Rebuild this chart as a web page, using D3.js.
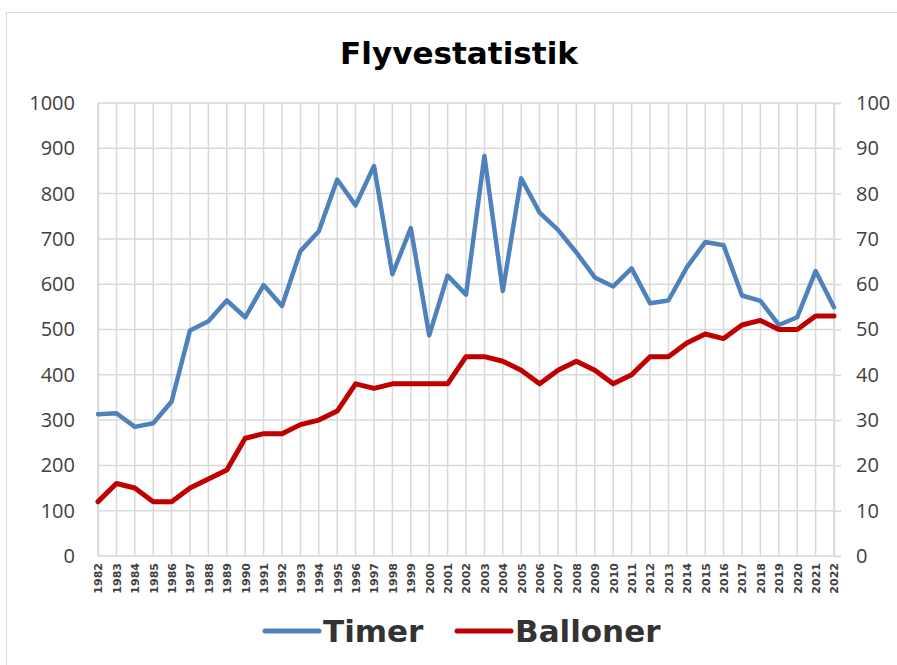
<!DOCTYPE html>
<html>
<head>
<meta charset="utf-8">
<script src="https://cdn.jsdelivr.net/npm/d3@7"></script>
<style>
  body { margin: 0; background: #fff; }
  svg { display: block; }
</style>
</head>
<body>
<div id="chart"></div>
<script>
const years = d3.range(1982, 2023).map(String);
const timer = [313, 315, 285, 293, 341, 498, 518, 564, 527, 598, 552, 673, 717, 831, 774, 861, 622, 724, 487, 619, 577, 883, 585, 834, 758, 720, 670, 615, 595, 635, 558, 564, 637, 693, 686, 575, 563, 510, 527, 629, 549];
const balloner = [12, 16, 15, 12, 12, 15, 17, 19, 26, 27, 27, 29, 30, 32, 38, 37, 38, 38, 38, 38, 44, 44, 43, 41, 38, 41, 43, 41, 38, 40, 44, 44, 47, 49, 48, 51, 52, 50, 50, 53, 53];
const leftTicks = d3.range(0, 1001, 100);
const rightTicks = d3.range(0, 101, 10);

const W = 897, H = 665;
const plot = { left: 98, right: 834, top: 103, bottom: 556 };

const svg = d3.select("#chart").append("svg")
    .attr("width", W)
    .attr("height", H)
    .style("font-family", "'DejaVu Sans', Verdana, sans-serif");

// chart frame
svg.append("rect")
    .attr("x", 6.5).attr("y", 12.5)
    .attr("width", W).attr("height", H)
    .attr("fill", "none")
    .attr("stroke", "#d9d9d9");

const x = d3.scalePoint().domain(years).range([plot.left, plot.right]);
const yL = d3.scaleLinear().domain([0, 1000]).range([plot.bottom, plot.top]);
const yR = d3.scaleLinear().domain([0, 100]).range([plot.bottom, plot.top]);

// grid
svg.append("g").selectAll("line.h").data(leftTicks).join("line")
    .attr("x1", plot.left).attr("x2", plot.right)
    .attr("y1", d => yL(d)).attr("y2", d => yL(d))
    .attr("stroke", "#d9d9d9").attr("stroke-width", 1.5);

svg.append("g").selectAll("line.v").data(years).join("line")
    .attr("x1", d => x(d)).attr("x2", d => x(d))
    .attr("y1", plot.top).attr("y2", plot.bottom)
    .attr("stroke", "#d9d9d9").attr("stroke-width", 1.5);

// axes
const axL = svg.append("g")
    .attr("transform", `translate(${plot.left},0)`)
    .call(d3.axisLeft(yL).tickValues(leftTicks).tickFormat(d3.format("d")).tickSize(0).tickPadding(23));
const axR = svg.append("g")
    .attr("transform", `translate(${plot.right},0)`)
    .call(d3.axisRight(yR).tickValues(rightTicks).tickFormat(d3.format("d")).tickSize(7).tickPadding(15));
[axL, axR].forEach(a => {
    a.select(".domain").attr("stroke", "#d9d9d9").attr("stroke-width", 1.5);
    a.selectAll(".tick line").attr("stroke", "#d9d9d9").attr("stroke-width", 1.5);
    a.selectAll("text").attr("font-size", 20).attr("fill", "#404040")
        .style("font-family", "'Open Sans', sans-serif");
});

const axB = svg.append("g")
    .attr("transform", `translate(0,${plot.bottom})`)
    .call(d3.axisBottom(x).tickSize(0));
axB.select(".domain").remove();
axB.selectAll("text")
    .attr("transform", "rotate(-90)")
    .attr("x", -7).attr("y", 0).attr("dy", "0.35em")
    .attr("text-anchor", "end")
    .attr("font-size", 11).attr("font-weight", "bold").attr("fill", "#404040")
    .style("font-family", "'DejaVu Sans', Verdana, sans-serif");

// lines
const lineL = d3.line().x((d, i) => x(years[i])).y(d => yL(d));
const lineR = d3.line().x((d, i) => x(years[i])).y(d => yR(d));

svg.append("path").datum(timer)
    .attr("d", lineL)
    .attr("fill", "none").attr("stroke", "#4f81bd")
    .attr("stroke-width", 4.5).attr("stroke-linejoin", "round").attr("stroke-linecap", "round");

svg.append("path").datum(balloner)
    .attr("d", lineR)
    .attr("fill", "none").attr("stroke", "#c00000")
    .attr("stroke-width", 5).attr("stroke-linejoin", "round").attr("stroke-linecap", "round");

// title
svg.append("text")
    .attr("x", 459).attr("y", 64)
    .attr("text-anchor", "middle")
    .attr("font-size", 30).attr("font-weight", "bold").attr("fill", "#000")
    .attr("textLength", 238).attr("lengthAdjust", "spacingAndGlyphs")
    .text("Flyvestatistik");

// legend
const legend = [
    { name: "Timer", color: "#4f81bd", x: 265 },
    { name: "Balloner", color: "#c00000", x: 457 }
];
const lg = svg.append("g").selectAll("g").data(legend).join("g");
lg.append("line")
    .attr("x1", d => d.x).attr("x2", d => d.x + 54)
    .attr("y1", 631).attr("y2", 631)
    .attr("stroke", d => d.color).attr("stroke-width", 5).attr("stroke-linecap", "round");
lg.append("text")
    .attr("x", d => d.x + 58).attr("y", 642)
    .attr("font-size", 31).attr("font-weight", "bold").attr("fill", "#333")
    .text(d => d.name);
</script>
</body>
</html>
